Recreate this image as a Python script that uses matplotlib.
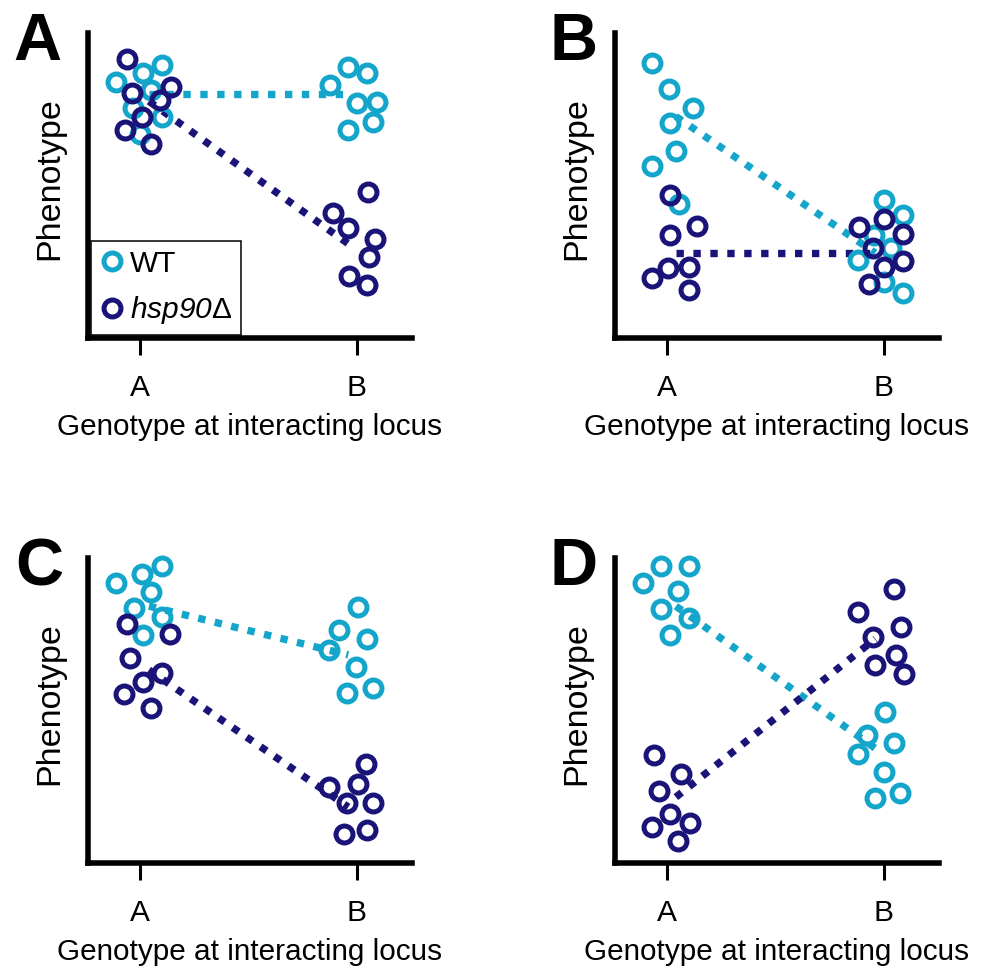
import matplotlib
matplotlib.use("Agg")
import matplotlib.pyplot as plt
import numpy as np

plt.rcParams['font.family'] = ['Liberation Sans', 'DejaVu Sans']
plt.rcParams['mathtext.fontset'] = 'custom'
plt.rcParams['mathtext.rm'] = 'Liberation Sans:italic'
plt.rcParams['mathtext.it'] = 'Liberation Sans:italic'

# ---------------- data ----------------
categories = ["A", "B"]
series_names = ["WT", r"$\mathrm{hsp90}$Δ"]
panel_letters = ["A", "B", "C", "D"]

# panel A
a_wt_A_jit = [-0.111, 0.014, 0.101, 0.051, -0.032, 0.101, 0.000]
a_wt_A_val = [256, 265, 273, 248, 230, 221, 204]
a_wt_B_jit = [-0.041, 0.046, -0.124, 0.000, 0.092, 0.074, -0.041]
a_wt_B_val = [271, 265, 253, 235, 236, 216, 208]
a_mu_A_jit = [-0.060, -0.037, 0.143, 0.092, 0.009, -0.069, 0.051]
a_mu_A_val = [279, 245, 251, 238, 221, 208, 194]
a_mu_B_jit = [0.051, -0.111, -0.041, 0.083, 0.055, -0.037, 0.046]
a_mu_B_val = [146, 125, 110, 99, 81, 62, 53]
a_wt_means = [244, 244]
a_mu_means = [243, 88]

# panel B
b_wt_A_jit = [-0.069, 0.009, 0.120, 0.014, 0.042, -0.069, 0.056]
b_wt_A_val = [275, 249, 230, 215, 187, 172, 134]
b_wt_B_jit = [0.000, 0.088, -0.046, 0.032, -0.120, 0.000, 0.088]
b_wt_B_val = [138, 123, 103, 90, 78, 56, 45]
b_mu_A_jit = [0.014, 0.139, 0.014, 0.005, 0.102, -0.069, 0.102]
b_mu_A_val = [143, 112, 103, 70, 71, 60, 48]
b_mu_B_jit = [-0.116, 0.000, 0.088, -0.051, 0.088, 0.000, -0.069]
b_mu_B_val = [111, 119, 104, 90, 77, 71, 54]
b_wt_means = [227.5, 79]
b_mu_means = [85, 85]

# panel C
c_wt_A_jit = [-0.113, 0.009, 0.100, 0.048, -0.031, 0.100, 0.014]
c_wt_A_val = [280, 289, 297, 271, 255, 246, 228]
c_wt_B_jit = [0.006, -0.083, 0.045, -0.128, -0.005, 0.072, -0.045]
c_wt_B_val = [256, 233, 224, 213, 196, 175, 170]
c_mu_A_jit = [-0.061, 0.138, -0.046, 0.100, 0.014, -0.074, 0.048]
c_mu_A_val = [239, 229, 205, 190, 181, 169, 155]
c_mu_B_jit = [0.041, -0.128, 0.006, -0.047, 0.072, -0.059, 0.045]
c_mu_B_val = [99, 76, 79, 60, 60, 29, 33]
c_wt_means = [259, 206]
c_mu_means = [199, 50]

# panel D
d_wt_A_jit = [-0.113, -0.029, 0.102, 0.051, -0.029, 0.102, 0.014]
d_wt_A_val = [280, 297, 297, 272, 254, 245, 228]
d_wt_B_jit = [0.006, -0.079, 0.048, -0.122, 0.001, 0.075, -0.040]
d_wt_B_val = [151, 128, 120, 109, 91, 70, 65]
d_mu_A_jit = [-0.063, 0.063, -0.040, 0.011, 0.103, -0.071, 0.052]
d_mu_A_val = [108, 89, 72, 49, 40, 36, 22]
d_mu_B_jit = [0.048, -0.122, 0.079, -0.052, 0.056, -0.042, 0.091]
d_mu_B_val = [274, 251, 236, 226, 208, 198, 189]
d_wt_means = [263, 108.5]
d_mu_means = [59, 231]

panels = [
    (a_wt_A_jit, a_wt_A_val, a_wt_B_jit, a_wt_B_val, a_mu_A_jit, a_mu_A_val, a_mu_B_jit, a_mu_B_val, a_wt_means, a_mu_means),
    (b_wt_A_jit, b_wt_A_val, b_wt_B_jit, b_wt_B_val, b_mu_A_jit, b_mu_A_val, b_mu_B_jit, b_mu_B_val, b_wt_means, b_mu_means),
    (c_wt_A_jit, c_wt_A_val, c_wt_B_jit, c_wt_B_val, c_mu_A_jit, c_mu_A_val, c_mu_B_jit, c_mu_B_val, c_wt_means, c_mu_means),
    (d_wt_A_jit, d_wt_A_val, d_wt_B_jit, d_wt_B_val, d_mu_A_jit, d_mu_A_val, d_mu_B_jit, d_mu_B_val, d_wt_means, d_mu_means),
]

# ---------------- style ----------------
WT_COLOR = '#14A5CB'
MU_COLOR = '#1A1478'
W, H = 983, 968
fig = plt.figure(figsize=(W / 100, H / 100), dpi=100)

ax_px = [(88, 33), (615, 33), (88, 558), (615, 558)]  # left, top in pixels
AX_W, AX_H = 324, 305
letter_pos = [(13, 60), (549, 60), (15, 585), (549, 585)]

ms = 12.2
mew = 3.6
line_x = np.array([0.04, 0.96])

for i, (p, (l, t), (lx, ly)) in enumerate(zip(panels, ax_px, letter_pos)):
    wAj, wAv, wBj, wBv, mAj, mAv, mBj, mBv, wm, mm = p
    ax = fig.add_axes([l / W, 1 - (t + AX_H) / H, AX_W / W, AX_H / H])
    ax.set_xlim(-0.241, 1.254)
    ax.set_ylim(0, 305)

    for means, col in ((wm, WT_COLOR), (mm, MU_COLOR)):
        yv = np.interp(line_x, [0, 1], means)
        ax.plot(line_x, yv, color=col, lw=5.3, dashes=(1.0, 1.3),
                dash_capstyle='butt', zorder=2)

    kw = dict(ms=ms, mfc='none', mew=mew, linestyle='none', clip_on=False)
    h_wt, = ax.plot(np.array(wAj) + 0, wAv, 'o', mec=WT_COLOR, zorder=3, **kw)
    ax.plot(np.array(wBj) + 1, wBv, 'o', mec=WT_COLOR, zorder=3, **kw)
    h_mu, = ax.plot(np.array(mAj) + 0, mAv, 'o', mec=MU_COLOR, zorder=4, **kw)
    ax.plot(np.array(mBj) + 1, mBv, 'o', mec=MU_COLOR, zorder=4, **kw)

    for s in ('top', 'right'):
        ax.spines[s].set_visible(False)
    for s in ('left', 'bottom'):
        ax.spines[s].set_linewidth(4.0)
        ax.spines[s].set_capstyle('projecting')
    ax.set_yticks([])
    ax.set_xticks([0, 1])
    ax.set_xticklabels(categories, fontsize=21.5)
    ax.tick_params(axis='x', direction='out', length=12, width=2.2, pad=14)
    ax.set_xlabel("Genotype at interacting locus", fontsize=21.4)
    ax.xaxis.set_label_coords(0.5, -0.245)
    ax.set_ylabel("Phenotype", fontsize=24.5)
    ax.yaxis.set_label_coords(-0.071, 0.522)

    fig.text(lx / W, 1 - ly / H, panel_letters[i], fontsize=48, fontweight='bold',
             ha='left', va='baseline')

    if i == 0:
        leg = ax.legend([h_wt, h_mu], series_names, loc='lower left',
                        bbox_to_anchor=(0.009, 0.01), borderaxespad=0,
                        fontsize=21.5, frameon=True, fancybox=False,
                        edgecolor='black', framealpha=1, handlelength=0.83,
                        handletextpad=0.18, borderpad=0.3, labelspacing=0.55,
                        numpoints=1)
        leg.get_frame().set_linewidth(1.1)
        leg.set_zorder(1)

fig.savefig("out.png", dpi=100)
